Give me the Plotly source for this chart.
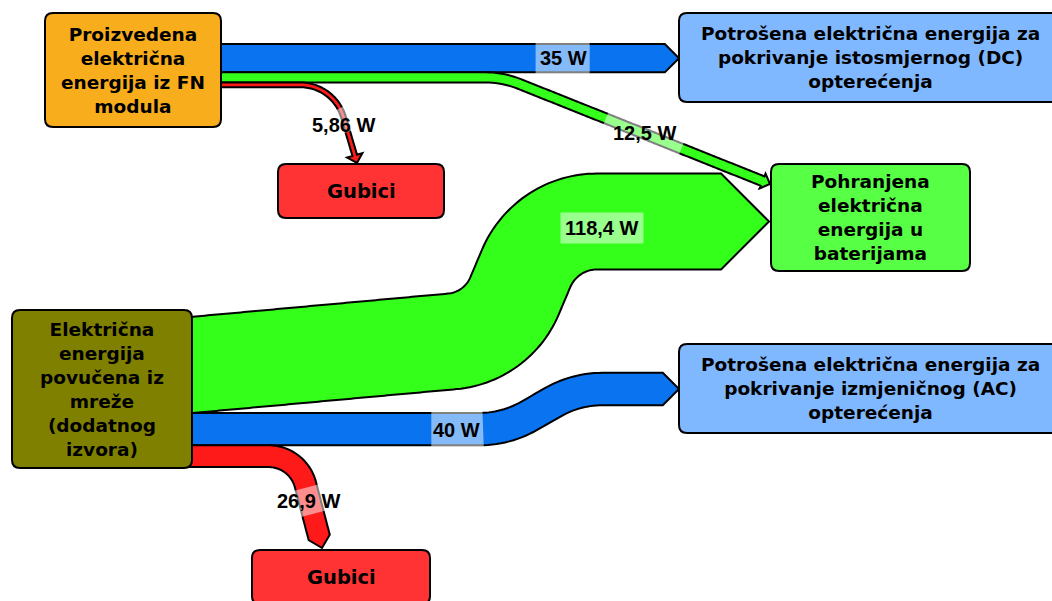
import math
import plotly.graph_objects as go

# ---------------- data ----------------
node_names = [
    "Proizvedena<br>električna<br>energija iz FN<br>modula",
    "Potrošena električna energija za<br>pokrivanje istosmjernog (DC)<br>opterećenja",
    "Gubici",
    "Pohranjena<br>električna<br>energija u<br>baterijama",
    "Električna<br>energija<br>povučena iz<br>mreže<br>(dodatnog<br>izvora)",
    "Potrošena električna energija za<br>pokrivanje izmjeničnog (AC)<br>opterećenja",
    "Gubici",
]
flow_source = [0, 0, 0, 4, 4, 4]
flow_target = [1, 3, 2, 3, 5, 6]
flow_values = [35, 12.5, 5.86, 118.4, 40, 26.9]
flow_text = ["35 W", "12,5 W", "5,86 W", "118,4 W", "40 W", "26,9 W"]
flow_kind = ["blue", "green", "red", "green", "blue", "red"]

# ---------------- layout / style ----------------
W, H = 1052, 601
PX_PER_W = 0.81
node_box = [(45, 13, 221, 127), (679, 13, 1062, 102), (278, 164, 444, 218),
            (771, 164, 970, 271), (12, 310, 192, 468), (679, 344, 1062, 433),
            (252, 550, 430, 604)]
node_fill = ["#F8AD1C", "#80B8FF", "#FF3333", "#57FF45", "#808000", "#80B8FF", "#FF3333"]
node_font = [18.5, 18.5, 19.5, 18.5, 18.5, 18.5, 19.5]
source_top = {0: 44, 4: 317}
kind_color = {"blue": "#0A74F0", "green": "#33FF1A", "red": "#FF1A1A"}
# route: corners (x, y or None -> start y, radius), tip (x, y or None)
routes = [
    dict(corners=[], tip=(679, None)),
    dict(corners=[(503, None, 90)], tip=(770, 184)),
    dict(corners=[(334, None, 45)], tip=(357, 163)),
    dict(corners=[(497, 337.3, 75), (546, 221.5, 77)], tip=(769, 221.5)),
    dict(corners=[(506, None, 100), (576, 389, 100)], tip=(679, 389)),
    dict(corners=[(298, None, 38)], tip=(322, 548)),
]
# label: position, highlight (axis, lo, hi) on band or None
label_pos = [(563.5, 58), (644, 133), (343.5, 124.5), (601.5, 228), (456, 429.5), (308.5, 500.5)]
label_hl = [("x", 535, 591), ("x", 605, 683), ("y", 108, 133), None, ("x", 429, 484), ("y", 487, 515)]
draw_order = [3, 4, 5, 0, 1, 2]


def unit(dx, dy):
    L = math.hypot(dx, dy)
    return dx / L, dy / L


def centerline(pts, radii):
    samples = []

    def add_line(a, b):
        dx, dy = b[0] - a[0], b[1] - a[1]
        L = math.hypot(dx, dy)
        if L < 1e-9:
            return
        tx, ty = dx / L, dy / L
        n = max(1, int(L / 3))
        for i in range(n + 1):
            if i == 0 and samples:
                continue
            s = i / n
            samples.append((a[0] + dx * s, a[1] + dy * s, tx, ty))

    cur = pts[0]
    for i in range(1, len(pts) - 1):
        P, prev, nxt = pts[i], pts[i - 1], pts[i + 1]
        d1 = unit(P[0] - prev[0], P[1] - prev[1])
        d2 = unit(nxt[0] - P[0], nxt[1] - P[1])
        cross = d1[0] * d2[1] - d1[1] * d2[0]
        dot = d1[0] * d2[0] + d1[1] * d2[1]
        phi = math.atan2(abs(cross), dot)
        r = radii[i - 1]
        t = r * math.tan(phi / 2)
        S = (P[0] - d1[0] * t, P[1] - d1[1] * t)
        E = (P[0] + d2[0] * t, P[1] + d2[1] * t)
        add_line(cur, S)
        sgn = 1 if cross > 0 else -1
        C = (S[0] - d1[1] * sgn * r, S[1] + d1[0] * sgn * r)
        a0 = math.atan2(S[1] - C[1], S[0] - C[0])
        m = max(2, int(math.degrees(phi) / 2))
        for k in range(1, m + 1):
            a = a0 + sgn * phi * k / m
            samples.append((C[0] + r * math.cos(a), C[1] + r * math.sin(a),
                            -math.sin(a) * sgn, math.cos(a) * sgn))
        cur = E
    add_line(cur, pts[-1])
    return samples


def offset(samples, d):
    return [(x - ty * d, y + tx * d) for x, y, tx, ty in samples]


def to_path(poly):
    return "M " + " L ".join(f"{x:.2f},{y:.2f}" for x, y in poly) + " Z"


def rounded_rect(x0, y0, x1, y1, r=8):
    return (f"M {x0+r},{y0} L {x1-r},{y0} Q {x1},{y0} {x1},{y0+r} L {x1},{y1-r} "
            f"Q {x1},{y1} {x1-r},{y1} L {x0+r},{y1} Q {x0},{y1} {x0},{y1-r} "
            f"L {x0},{y0+r} Q {x0},{y0} {x0+r},{y0} Z")


shapes = []
annotations = []

# stack outflows on source nodes
offsets = dict(source_top)
bands = {}
for i, v in enumerate(flow_values):
    w = v * PX_PER_W
    s = flow_source[i]
    ys = offsets[s] + w / 2
    offsets[s] += w
    x_edge = node_box[s][2]
    rt = routes[i]
    corners = [(cx, ys if cy is None else cy) for cx, cy, _ in rt["corners"]]
    radii = [r for _, _, r in rt["corners"]]
    tip = (rt["tip"][0], ys if rt["tip"][1] is None else rt["tip"][1])
    start = (x_edge, ys)
    nxt = corners[0] if corners else tip
    d0 = unit(nxt[0] - start[0], nxt[1] - start[1])
    start_ext = (start[0] - d0[0] * 25, start[1] - d0[1] * 25)
    last = corners[-1] if corners else start
    dl = unit(tip[0] - last[0], tip[1] - last[1])
    h = max(w / 2, 8)
    end = (tip[0] - dl[0] * h, tip[1] - dl[1] * h)
    samples = centerline([start_ext] + corners + [end], radii)
    bands[i] = (samples, w, tip, h)

for i in draw_order:
    samples, w, tip, h = bands[i]
    sa = offset(samples, w / 2)
    sb = offset(samples, -w / 2)
    ex, ey, tx, ty = samples[-1]
    barb_a = (ex - ty * h, ey + tx * h)
    barb_b = (ex + ty * h, ey - tx * h)
    poly = sa + [barb_a, tip, barb_b] + sb[::-1]
    shapes.append(dict(type="path", xref="x", yref="y", path=to_path(poly),
                       fillcolor=kind_color[flow_kind[i]],
                       line=dict(color="black", width=2), layer="above"))

# label highlights along bands
for i, hl in enumerate(label_hl):
    if hl is None:
        continue
    samples, w, tip, h = bands[i]
    ax, lo, hi = hl
    idx = 0 if ax == "x" else 1
    sel = [s for s in samples if lo <= s[idx] <= hi]
    if len(sel) < 2:
        continue
    poly = offset(sel, w / 2 + 1.5) + offset(sel, -w / 2 - 1.5)[::-1]
    shapes.append(dict(type="path", xref="x", yref="y", path=to_path(poly),
                       fillcolor="rgba(255,255,255,0.5)", line=dict(width=0), layer="above"))

# nodes
for k, (x0, y0, x1, y1) in enumerate(node_box):
    shapes.append(dict(type="path", xref="x", yref="y", path=rounded_rect(x0, y0, x1, y1),
                       fillcolor=node_fill[k], line=dict(color="black", width=2), layer="above"))
    annotations.append(dict(x=(x0 + x1) / 2, y=(y0 + y1) / 2, xref="x", yref="y",
                            text=f"<b>{node_names[k]}</b>", showarrow=False,
                            xanchor="center", yanchor="middle", align="center",
                            font=dict(family="DejaVu Sans", size=node_font[k], color="black")))

# flow labels
for i, t in enumerate(flow_text):
    x, y = label_pos[i]
    a = dict(x=x, y=y, xref="x", yref="y", text=f"<b>{t}</b>", showarrow=False,
             xanchor="center", yanchor="middle",
             font=dict(family="Liberation Sans", size=20, color="black"))
    if label_hl[i] is None:
        a.update(bgcolor="rgba(255,255,255,0.5)", borderpad=4)
    annotations.append(a)

fig = go.Figure(go.Scatter(x=[], y=[], showlegend=False))
fig.update_layout(
    width=W, height=H, margin=dict(l=0, r=0, t=0, b=0),
    paper_bgcolor="white", plot_bgcolor="white",
    xaxis=dict(range=[0, W], visible=False, fixedrange=True),
    yaxis=dict(range=[H, 0], visible=False, fixedrange=True),
    shapes=shapes, annotations=annotations, showlegend=False,
)
fig.write_html("out.html", config={"displayModeBar": False},
               post_script="document.body.style.margin='0px';document.body.style.overflow='hidden';")
